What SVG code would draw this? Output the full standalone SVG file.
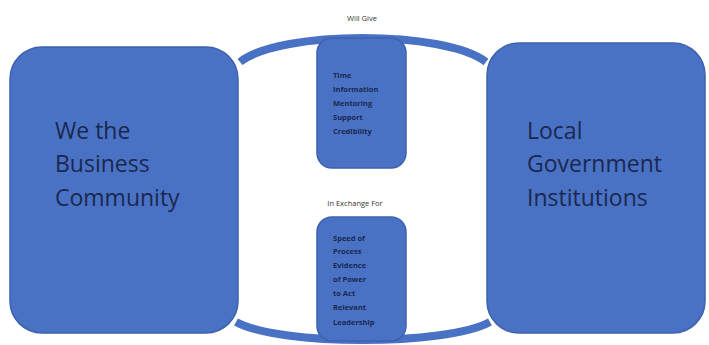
<svg xmlns="http://www.w3.org/2000/svg" width="709" height="345" viewBox="0 0 709 345">
<style>
.box{fill:#4a72c4;stroke:#3d62ae;stroke-width:1.5}
.arc{fill:none;stroke:#4a72c4;stroke-width:8;stroke-linecap:butt}
.big{font-family:"Open Sans",sans-serif;font-size:23px;fill:#1a2850}
.small{font-family:"Open Sans",sans-serif;font-size:7.5px;font-weight:bold;fill:#1a2850}
.lbl{font-family:"Open Sans",sans-serif;font-size:7.5px;fill:#333;text-anchor:middle}
</style>
<rect width="709" height="345" fill="#ffffff"/>
<g id="connectors">
<path class="arc" d="M240,62 C280,30 445,30 486,62"/>
<path class="arc" d="M236,322 C280,346 445,346 490,322"/>
</g>
<g id="business">
<rect class="box" x="10" y="47" width="228" height="286" rx="32"/>
<text class="big" x="55" y="139">We the</text>
<text class="big" x="55" y="172">Business</text>
<text class="big" x="55" y="206">Community</text>
</g>
<g id="government">
<rect class="box" x="487" y="43" width="218" height="290" rx="32"/>
<text class="big" x="527" y="139">Local</text>
<text class="big" x="527" y="172">Government</text>
<text class="big" x="527" y="206">Institutions</text>
</g>
<g id="give">
<rect class="box" x="317" y="38" width="89" height="130" rx="15"/>
<text class="small" x="333" y="78">Time</text>
<text class="small" x="333" y="92">Information</text>
<text class="small" x="333" y="106">Mentoring</text>
<text class="small" x="333" y="120">Support</text>
<text class="small" x="333" y="134">Credibility</text>
</g>
<g id="exchange">
<rect class="box" x="317" y="217" width="89" height="124" rx="15"/>
<text class="small" x="333" y="241">Speed of</text>
<text class="small" x="333" y="254">Process</text>
<text class="small" x="333" y="268">Evidence</text>
<text class="small" x="333" y="282">of Power</text>
<text class="small" x="333" y="296">to Act</text>
<text class="small" x="333" y="310">Relevant</text>
<text class="small" x="333" y="325">Leadership</text>
</g>
<g id="labels">
<text class="lbl" x="362" y="21">Will Give</text>
<text class="lbl" x="355" y="206">In Exchange For</text>
</g>
</svg>
